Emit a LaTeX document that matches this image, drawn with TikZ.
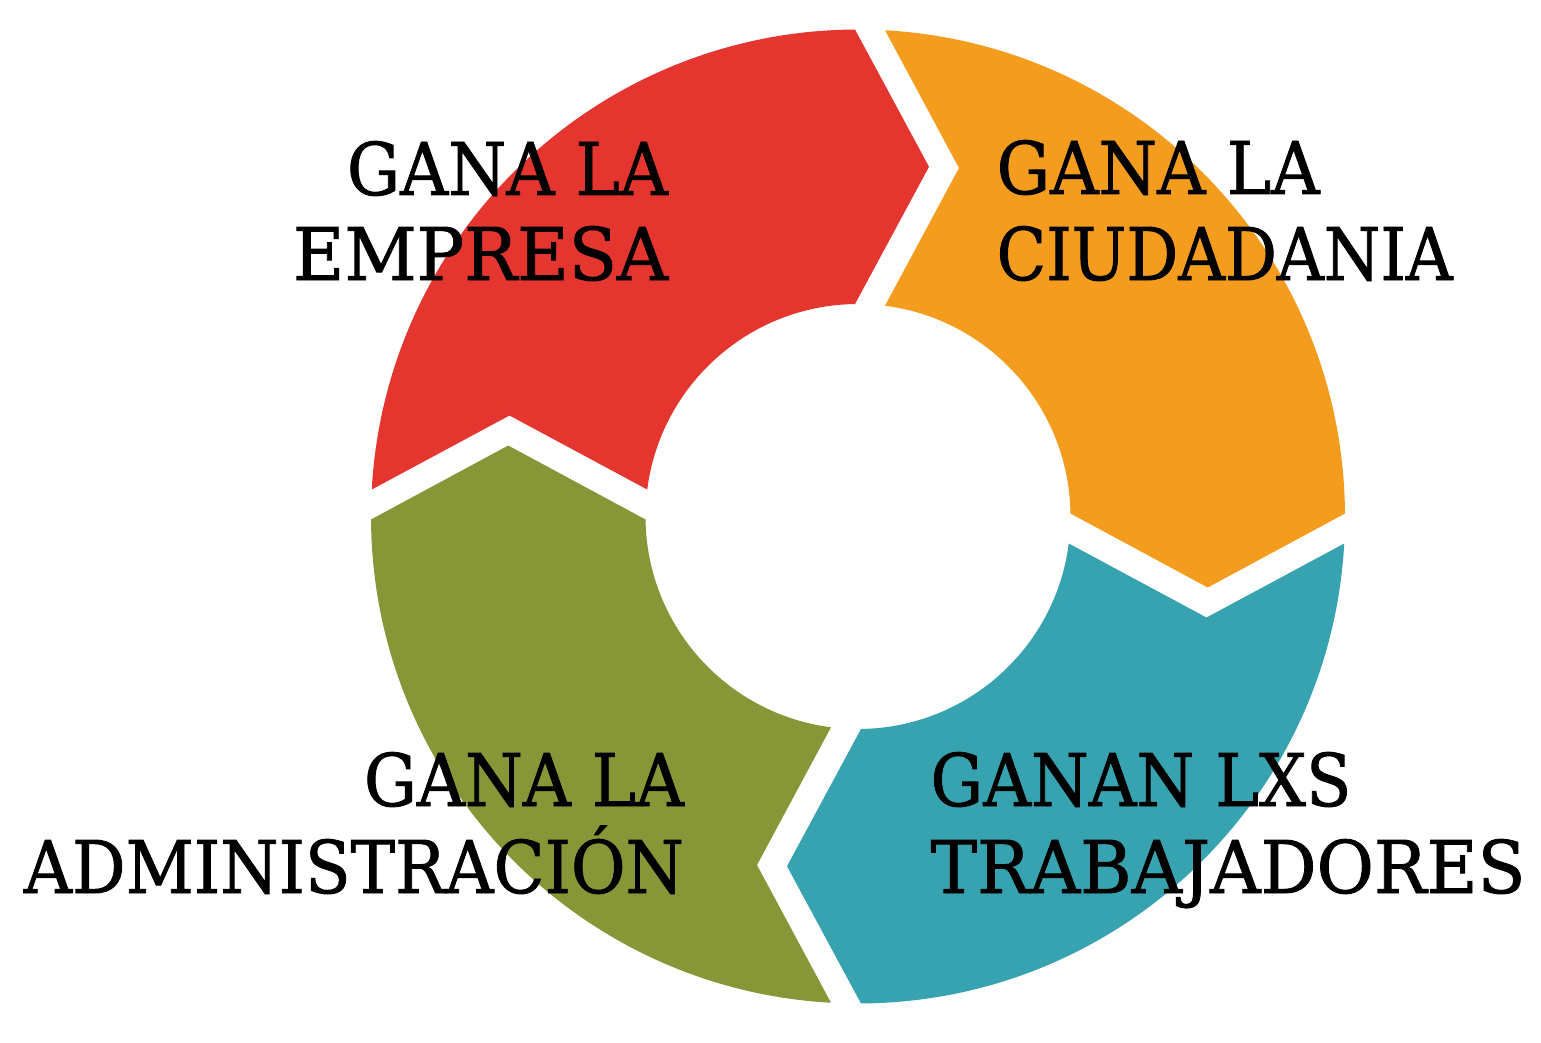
\documentclass[tikz,border=0pt]{standalone}
\usepackage{fontspec}
\usepackage{graphicx}
\newfontfamily\sketchfont[FakeBold=1.2]{DejaVu Serif}
\definecolor{segred}{HTML}{E5352F}
\definecolor{segorange}{HTML}{F39C1E}
\definecolor{segteal}{HTML}{37A3B0}
\definecolor{seggreen}{HTML}{879637}
\newsavebox\fitbox
\newcommand\fitto[2]{\sbox\fitbox{#2}\pgfmathsetmacro\fitfac{#1/\wd\fitbox}\scalebox{\fitfac}[1]{\usebox\fitbox}}
\tikzset{
  seglabel/.style={inner sep=0pt, outer sep=0pt, text=black,
    font=\sketchfont\fontsize{72.7}{80}\selectfont},
  segment/.style={fill=#1, draw=none}
}
\newcommand\segm[3]{\path[segment=#1, rotate=#2] (176.82:487) arc[start angle=176.82, end angle=90.353, radius=487] -- (71,349.75) -- (90.809:212.5) arc[start angle=90.809, end angle=172.70, radius=212.5] -- (-348.5,101) -- cycle;}
\begin{document}
\begin{tikzpicture}[x=1pt,y=1pt]
\useasboundingbox[fill=white] (-858,-525.5) rectangle (683,516.5);
\segm{segred}{0}{red}
\segm{segorange}{-90}{orange}
\segm{segteal}{-180}{teal}
\segm{seggreen}{90}{green}
% labels
\node[seglabel, anchor=base east] (tl1) at (-190,321.5) {\fitto{321}{GANA LA}};
\node[seglabel, anchor=base east] (tl2) at (-190,236.5) {\fitto{375}{EMPRESA}};
\node[seglabel, anchor=base west] (tr1) at (138.7,322.5) {\fitto{323}{GANA LA}};
\node[seglabel, anchor=base west] (tr2) at (138.7,236.5) {\fitto{456}{CIUDADANIA}};
\node[seglabel, anchor=base east] (bl1) at (-174,-289.5) {\fitto{320}{GANA LA}};
\node[seglabel, anchor=base east] (bl2) at (-174,-376.5) {\fitto{660}{ADMINISTRACIÓN}};
\node[seglabel, anchor=base west] (br1) at (72.5,-289.5) {\fitto{421}{GANAN LXS}};
\node[seglabel, anchor=base west] (br2) at (72.5,-376.5) {\fitto{595}{TRABAJADORES}};
\end{tikzpicture}
\end{document}
